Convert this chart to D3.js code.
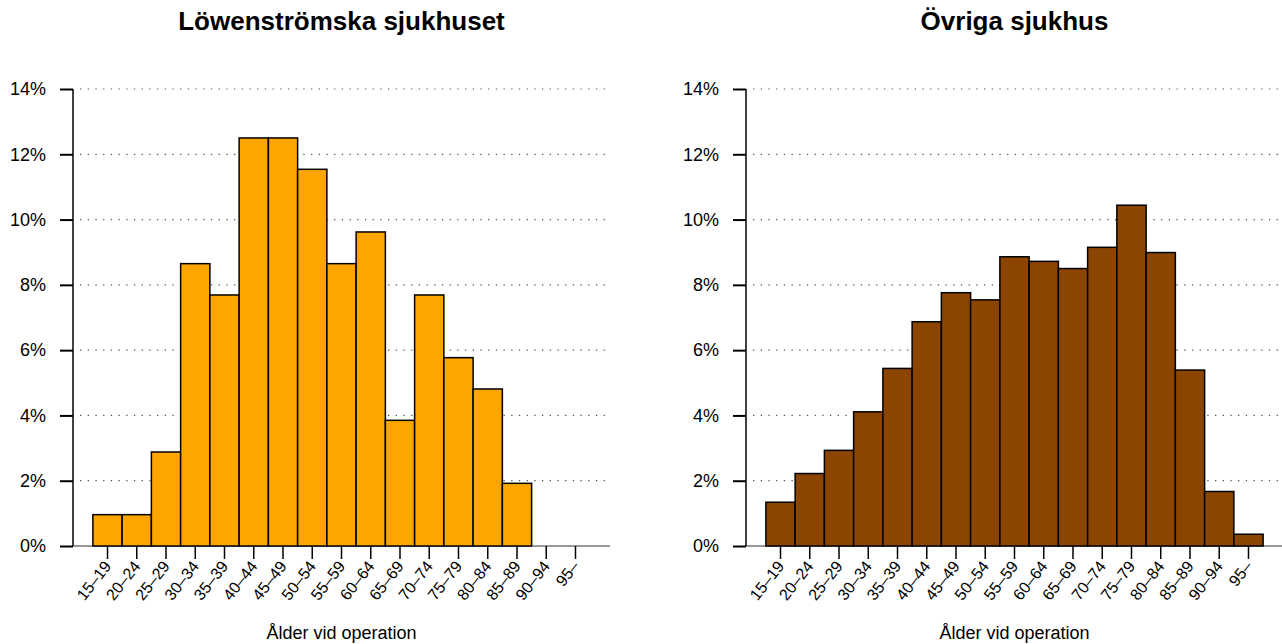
<!DOCTYPE html>
<html>
<head>
<meta charset="utf-8">
<script src="https://cdn.jsdelivr.net/npm/d3@7"></script>
<style>
  html, body { margin: 0; padding: 0; background: #fff; }
  svg { display: block; font-family: "Liberation Sans", Arial, Helvetica, sans-serif; }
</style>
</head>
<body>
<svg id="chart" width="1282" height="644"></svg>
<script>
// ---- data ----
const ageGroups = ["15\u201319","20\u201324","25\u201329","30\u201334","35\u201339","40\u201344","45\u201349","50\u201354","55\u201359","60\u201364","65\u201369","70\u201374","75\u201379","80\u201384","85\u201389","90\u201394","95\u2013"];
const lowenstromska = [0.96, 0.96, 2.88, 8.65, 7.69, 12.50, 12.50, 11.54, 8.65, 9.62, 3.85, 7.69, 5.77, 4.81, 1.92, 0, 0];
const ovriga = [1.34, 2.22, 2.93, 4.11, 5.44, 6.87, 7.76, 7.54, 8.86, 8.72, 8.50, 9.15, 10.44, 8.99, 5.39, 1.67, 0.36];
const yTicks = [0, 2, 4, 6, 8, 10, 12, 14];
const panelTitles = ["L\u00f6wenstr\u00f6mska sjukhuset", "\u00d6vriga sjukhus"];
const xTitle = "\u00c5lder vid operation";
const panelColors = ["#FFA500", "#8B4500"];

const svg = d3.select("#chart");
const panels = [
  { title: panelTitles[0], values: lowenstromska, color: panelColors[0], offset: 0 },
  { title: panelTitles[1], values: ovriga, color: panelColors[1], offset: 673 }
];

const plotLeft = 73, plotRight = 610, plotTop = 89, plotBottom = 546;

panels.forEach(p => {
  const g = svg.append("g").attr("transform", `translate(${p.offset},0)`);
  const x = d3.scaleBand().domain(ageGroups).range([plotLeft, plotRight]).paddingInner(0).paddingOuter(0.68);
  const y = d3.scaleLinear().domain([0, 14]).range([plotBottom, plotTop]);

  // dotted gridlines
  g.append("g").selectAll("line").data(yTicks.filter(t => t > 0)).join("line")
    .attr("x1", plotLeft + 7).attr("x2", plotRight)
    .attr("y1", d => y(d)).attr("y2", d => y(d))
    .attr("stroke", "#555").attr("stroke-width", 1.2)
    .attr("stroke-dasharray", "1.3,6.4");

  // baseline
  g.append("line").attr("x1", plotLeft).attr("x2", plotRight)
    .attr("y1", y(0)).attr("y2", y(0)).attr("stroke", "#333").attr("stroke-width", 1);

  // bars
  g.append("g").selectAll("rect").data(p.values).join("rect")
    .attr("x", (d, i) => x(ageGroups[i]))
    .attr("width", x.bandwidth())
    .attr("y", d => y(d))
    .attr("height", d => y(0) - y(d))
    .attr("fill", p.color)
    .attr("stroke", "#000").attr("stroke-width", 1.5);

  // y axis
  const yAxis = d3.axisLeft(y).tickValues(yTicks).tickFormat(d => d + "%").tickSize(13).tickPadding(14);
  const ya = g.append("g").attr("transform", `translate(${plotLeft},0)`).call(yAxis);
  ya.select(".domain").attr("d", `M0,${y(0)}V${y(14)}`).attr("stroke", "#000").attr("stroke-width", 1.5);
  ya.selectAll(".tick line").attr("stroke", "#000").attr("stroke-width", 2);
  ya.selectAll(".tick text").attr("font-size", 18).attr("fill", "#000")
    .attr("font-family", '"Liberation Sans", Arial, Helvetica, sans-serif');

  // x axis ticks
  const xAxis = d3.axisBottom(x).tickSize(13).tickFormat("");
  const xa = g.append("g").attr("transform", `translate(0,${plotBottom})`).call(xAxis);
  xa.select(".domain").remove();
  xa.selectAll(".tick line").attr("stroke", "#000").attr("stroke-width", 1.5);

  // rotated x labels
  g.append("g").selectAll("text").data(ageGroups).join("text")
    .attr("transform", d => `translate(${x(d) + x.bandwidth() / 2},${plotBottom + 17}) rotate(-52)`)
    .attr("text-anchor", "end").attr("dy", "0.35em")
    .attr("font-size", 16).attr("fill", "#000")
    .text(d => d);

  // titles
  g.append("text").attr("x", (plotLeft + plotRight) / 2).attr("y", 30)
    .attr("text-anchor", "middle").attr("font-size", 26).attr("font-weight", "bold")
    .text(p.title);
  g.append("text").attr("x", (plotLeft + plotRight) / 2).attr("y", 639)
    .attr("text-anchor", "middle").attr("font-size", 18)
    .text(xTitle);
});
</script>
</body>
</html>
